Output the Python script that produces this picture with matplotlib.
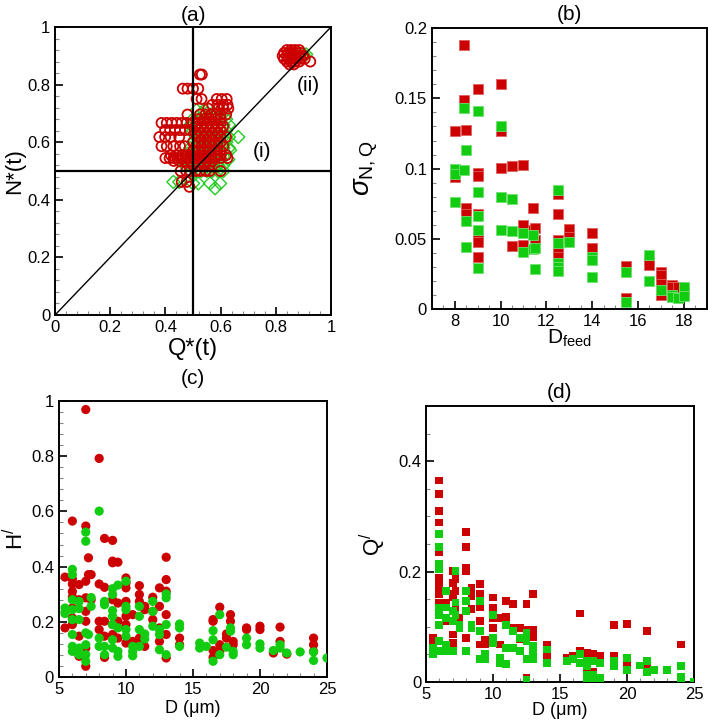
import numpy as np
import matplotlib
matplotlib.use("Agg")
import matplotlib.pyplot as plt
from matplotlib.ticker import MultipleLocator, FuncFormatter

plt.rcParams['font.family'] = ['Liberation Sans', 'DejaVu Sans']
plt.rcParams['mathtext.fontset'] = 'custom'
plt.rcParams['mathtext.rm'] = 'Liberation Sans'
plt.rcParams['mathtext.it'] = 'Liberation Sans:italic'

RED = '#cc0000'
GREEN = '#11cc11'

# ---- panel (a): rows of points, N value -> list of Q values ----
a_red_n = [0.835, 0.786, 0.75, 0.73, 0.717, 0.696, 0.68, 0.667, 0.655, 0.642,
           0.63, 0.618, 0.60, 0.586, 0.57, 0.555, 0.545, 0.535, 0.52, 0.50,
           0.462, 0.445,
           0.92, 0.91, 0.90, 0.89, 0.88, 0.87]
a_red_q = [[0.525, 0.532],
           [0.463, 0.48, 0.50, 0.519],
           [0.513, 0.531, 0.586, 0.604, 0.622],
           [0.57, 0.59, 0.61, 0.625],
           [0.555, 0.592, 0.61, 0.628],
           [0.48, 0.525, 0.545, 0.565, 0.585, 0.60, 0.62],
           [0.52, 0.54, 0.56, 0.58, 0.60],
           [0.386, 0.405, 0.423, 0.441, 0.459, 0.477, 0.50, 0.52, 0.54, 0.56, 0.58, 0.60],
           [0.51, 0.53, 0.55, 0.57, 0.59, 0.61],
           [0.399, 0.417, 0.435, 0.453, 0.471, 0.489, 0.52, 0.54, 0.56, 0.58, 0.60],
           [0.51, 0.53, 0.55, 0.57, 0.59],
           [0.378, 0.399, 0.419, 0.45, 0.52, 0.54, 0.56, 0.58, 0.60, 0.62],
           [0.50, 0.52, 0.54, 0.56, 0.58, 0.60],
           [0.386, 0.405, 0.429, 0.453, 0.47, 0.51, 0.53, 0.55, 0.57, 0.59, 0.61],
           [0.50, 0.52, 0.54, 0.56, 0.58, 0.60],
           [0.42, 0.44, 0.46, 0.48, 0.50, 0.52, 0.54, 0.56, 0.58, 0.60, 0.62],
           [0.40, 0.415, 0.43, 0.445, 0.46, 0.475, 0.49, 0.505, 0.52, 0.535, 0.55, 0.565, 0.58, 0.60, 0.625],
           [0.43, 0.45, 0.47, 0.49, 0.51, 0.53, 0.55, 0.57],
           [0.50, 0.52, 0.54, 0.56],
           [0.455, 0.475, 0.49, 0.51, 0.525, 0.545, 0.56, 0.60],
           [0.459, 0.477],
           [0.487],
           [0.84, 0.855, 0.87, 0.885],
           [0.83, 0.845, 0.86, 0.875, 0.89],
           [0.825, 0.84, 0.855, 0.87, 0.885, 0.90],
           [0.83, 0.845, 0.86, 0.875, 0.89, 0.905],
           [0.84, 0.855, 0.87, 0.885, 0.925],
           [0.85, 0.865]]

a_green_n = [0.711, 0.70, 0.68, 0.66, 0.64, 0.618, 0.60, 0.58, 0.572, 0.56,
             0.54, 0.52, 0.50, 0.462, 0.457, 0.44, 0.905, 0.895]
a_green_q = [[0.513, 0.54],
             [0.53, 0.55, 0.57, 0.59, 0.61],
             [0.50, 0.52, 0.54, 0.56, 0.58, 0.60, 0.62],
             [0.49, 0.51, 0.53, 0.55, 0.57, 0.59, 0.61, 0.63],
             [0.50, 0.52, 0.54, 0.56, 0.58, 0.60, 0.62],
             [0.51, 0.53, 0.55, 0.57, 0.59, 0.61, 0.63, 0.664],
             [0.50, 0.52, 0.54, 0.56, 0.58, 0.60, 0.62],
             [0.49, 0.51, 0.53, 0.55, 0.57, 0.59, 0.61, 0.63],
             [0.634],
             [0.48, 0.50, 0.52, 0.54, 0.56, 0.58, 0.60, 0.62],
             [0.46, 0.48, 0.50, 0.52, 0.54, 0.56, 0.58, 0.60, 0.628],
             [0.47, 0.49, 0.51, 0.53, 0.55, 0.57, 0.59, 0.61],
             [0.49, 0.51, 0.53, 0.55, 0.57, 0.59, 0.61],
             [0.429, 0.45],
             [0.50, 0.519, 0.562, 0.598],
             [0.58],
             [0.90, 0.91],
             [0.895]]

# ---- panel (b): sigma_{N,Q} vs D_feed ----
b_red_x = [8, 8, 8.4, 8.4, 8.5, 8.5, 8.5, 9, 9, 9, 9, 9, 9, 9, 9,
           10, 10, 10, 10.5, 10.5, 11, 11, 11, 11.4, 11.4, 11.5, 11.5,
           12.5, 12.5, 12.5, 12.5, 12.5, 13, 13, 14, 14, 15.5, 15.5,
           16.5, 16.5, 17, 17, 17, 17, 17.5, 17.5, 17.75, 18, 18]
b_red_y = [0.127, 0.094, 0.188, 0.1485, 0.1275, 0.0717, 0.068, 0.157, 0.0966, 0.095,
           0.068, 0.054, 0.050, 0.048, 0.037,
           0.160, 0.127, 0.1006, 0.102, 0.045, 0.1027, 0.060, 0.0455, 0.0716, 0.056,
           0.058, 0.049,
           0.0816, 0.068, 0.049, 0.043, 0.037, 0.057, 0.0515, 0.054, 0.0437, 0.0306, 0.008,
           0.035, 0.031, 0.0266, 0.024, 0.0178, 0.010, 0.017, 0.0154, 0.016, 0.0135, 0.012]
b_green_x = [8, 8, 8, 8.4, 8.4, 8.5, 8.5, 8.5, 9, 9, 9, 9, 9,
             10, 10, 10, 10.5, 10.5, 11, 11, 11.4, 11.4, 11.5, 11.5,
             12.5, 12.5, 12.5, 12.5, 12.5, 13, 14, 14, 14, 15.5, 15.5,
             16.5, 16.5, 17, 17.5, 17.5, 17.75, 18, 18]
b_green_y = [0.100, 0.096, 0.076, 0.143, 0.099, 0.113, 0.063, 0.044, 0.141, 0.083, 0.0665,
             0.056, 0.029,
             0.130, 0.080, 0.056, 0.0785, 0.0555, 0.054, 0.0405, 0.0527, 0.043, 0.0434, 0.0285,
             0.085, 0.0467, 0.0325, 0.030, 0.027, 0.048, 0.037, 0.035, 0.0225, 0.0266, 0.005,
             0.0384, 0.020, 0.0135, 0.010, 0.0088, 0.008, 0.0154, 0.009]

# ---- panel (c): H' vs D ----
c_red_x = [5.45, 5.45, 6, 6, 6, 6, 6, 6, 6, 6, 6.5, 6.5, 6.5, 6.5,
           7, 7, 7, 7, 7, 7, 7, 7, 7.2, 7.2, 7.4, 7.4, 8, 8, 8, 8,
           8.4, 8.4, 8.4, 8.4, 8.4, 9, 9, 9, 9, 9, 9, 9.4, 9.4, 9.4, 9.4,
           10, 10, 10, 10, 10, 10, 10, 10.5, 10.5, 11, 11, 11, 11, 11,
           11.4, 11.4, 11.4, 12, 12, 12, 12.5, 12.5, 12.5, 12.5,
           13, 13, 13, 13, 13, 13, 14, 14, 16.5, 16.5, 16.5, 16.5,
           17, 17, 17, 17.5, 17.5, 17.8, 17.8, 18, 18, 19, 19, 20, 20,
           21, 21.5, 21.5, 22, 24, 24, 24]
c_red_y = [0.362, 0.178, 0.565, 0.355, 0.337, 0.31, 0.29, 0.25, 0.214, 0.19,
           0.335, 0.28, 0.148, 0.075,
           0.969, 0.547, 0.347, 0.287, 0.238, 0.202, 0.105, 0.039, 0.432, 0.371,
           0.371, 0.28, 0.792, 0.337, 0.202, 0.172,
           0.502, 0.325, 0.202, 0.148, 0.071, 0.495, 0.42, 0.414, 0.28, 0.19, 0.154,
           0.416, 0.268, 0.202, 0.141,
           0.359, 0.341, 0.323, 0.274, 0.22, 0.19, 0.123, 0.226, 0.129,
           0.331, 0.299, 0.274, 0.141, 0.129,
           0.256, 0.244, 0.111, 0.289, 0.238, 0.208, 0.323, 0.256, 0.178, 0.129,
           0.434, 0.353, 0.311, 0.226, 0.154, 0.069, 0.141, 0.117,
           0.208, 0.202, 0.096, 0.071,
           0.253, 0.117, 0.093, 0.156, 0.141, 0.226, 0.202, 0.129, 0.117,
           0.178, 0.172, 0.184, 0.172,
           0.087, 0.181, 0.129, 0.083, 0.141, 0.117, 0.093]
c_green_x = [5.45, 5.45, 6, 6, 6, 6, 6, 6, 6, 6, 6.5, 6.5, 6.5, 6.5, 6.5,
             7, 7, 7, 7, 7, 7, 7.2, 7.4, 7.4, 8, 8, 8,
             8.4, 8.4, 8.4, 8.4, 9, 9, 9, 9, 9, 9, 9, 9.4, 9.4, 9.4, 9.4,
             10, 10, 10, 10, 10, 10.5, 10.5, 10.5, 11, 11, 11, 11,
             11.4, 11.4, 12, 12, 12, 12.5, 12.5, 12.5, 13, 13, 13, 13,
             14, 14, 14, 15.5, 15.5, 16, 16.5, 16.5, 16.5, 17, 17, 17.5,
             17.8, 17.8, 18, 18, 19, 19, 20, 20, 21, 21.5, 21.5, 22, 23, 24, 24, 25]
c_green_y = [0.25, 0.23, 0.39, 0.371, 0.28, 0.244, 0.208, 0.154, 0.111, 0.093,
             0.274, 0.248, 0.208, 0.105, 0.081,
             0.525, 0.492, 0.16, 0.117, 0.081, 0.057, 0.154, 0.288, 0.256,
             0.601, 0.141, 0.111,
             0.274, 0.262, 0.111, 0.081, 0.32, 0.299, 0.241, 0.22, 0.19, 0.135, 0.105,
             0.333, 0.178, 0.093, 0.075,
             0.347, 0.256, 0.244, 0.172, 0.148, 0.111, 0.093, 0.077,
             0.256, 0.22, 0.172, 0.111, 0.156, 0.138, 0.274, 0.238, 0.184,
             0.172, 0.154, 0.099, 0.301, 0.287, 0.19, 0.081,
             0.192, 0.178, 0.111, 0.123, 0.105, 0.111, 0.168, 0.135, 0.057,
             0.226, 0.081, 0.108, 0.178, 0.166, 0.093, 0.081, 0.141, 0.117,
             0.12, 0.105, 0.096, 0.117, 0.105, 0.087, 0.091, 0.091, 0.060, 0.069]

# ---- panel (d): Q' vs D ----
d_red_x = [5.5, 5.5, 6, 6, 6, 6, 6, 6, 6, 6, 6, 6, 6.5, 6.5,
           7, 7, 7, 7, 7, 7, 7.2, 7.2, 7.2, 7.5, 8, 8, 8, 8, 8,
           8.4, 8.4, 8.4, 9, 9, 9, 9, 9, 9.4, 9.4, 10, 10, 10, 10,
           10.5, 10.5, 11, 11, 11, 11.5, 11.5, 12, 12, 12.5, 12.5, 12.5, 12.5,
           13, 13, 13, 14, 14, 15.5, 16, 16.5, 16.5, 17, 17, 17.5, 17.5, 18,
           19, 19, 20, 20, 21.5, 21.5, 22, 24]
d_red_y = [0.08, 0.071, 0.365, 0.34, 0.31, 0.289, 0.24, 0.235, 0.189, 0.174, 0.159, 0.144,
           0.144, 0.11,
           0.201, 0.18, 0.159, 0.153, 0.086, 0.071, 0.186, 0.165, 0.132, 0.116,
           0.271, 0.244, 0.207, 0.201, 0.08,
           0.171, 0.156, 0.132, 0.177, 0.159, 0.135, 0.11, 0.068, 0.077, 0.068,
           0.153, 0.135, 0.116, 0.098,
           0.116, 0.068, 0.147, 0.118, 0.11, 0.142, 0.098, 0.098, 0.077,
           0.142, 0.095, 0.08, 0.007,
           0.159, 0.095, 0.081, 0.068, 0.047, 0.044, 0.047, 0.124, 0.056,
           0.053, 0.016, 0.051, 0.019, 0.047,
           0.104, 0.047, 0.105, 0.035, 0.092, 0.029, 0.022, 0.068]
d_green_x = [5.5, 5.5, 6, 6, 6, 6, 6, 6, 6, 6, 6, 6.5, 6.5, 6.5, 6.5, 6.5,
             7, 7, 7, 7.2, 7.2, 7.2, 7.5, 7.5, 8, 8, 8, 8, 8.4, 8.4,
             9, 9, 9, 9.4, 9.4, 10, 10, 10, 10.5, 10.5, 11, 11, 11,
             11.5, 11.5, 12, 12, 12.5, 12.5, 12.5, 12.5, 13, 13, 13,
             14, 14, 15.5, 16, 16.5, 16.5, 17, 17, 17, 17, 17.5, 17.5, 17.5,
             18, 18, 18, 19, 19, 20, 20, 21, 21.5, 21.5, 22, 23, 24, 24, 24, 25]
d_green_y = [0.062, 0.05, 0.268, 0.244, 0.213, 0.204, 0.135, 0.122, 0.104, 0.074, 0.056,
             0.165, 0.135, 0.116, 0.068, 0.056,
             0.128, 0.11, 0.056, 0.201, 0.144, 0.122, 0.104, 0.098,
             0.165, 0.147, 0.128, 0.056, 0.104, 0.098,
             0.147, 0.092, 0.041, 0.05, 0.041, 0.122, 0.08, 0.071, 0.044, 0.035,
             0.104, 0.062, 0.032, 0.092, 0.062, 0.08, 0.056,
             0.089, 0.074, 0.041, 0.004, 0.065, 0.056, 0.041,
             0.059, 0.035, 0.038, 0.041, 0.05, 0.035, 0.038, 0.029, 0.013, 0.001,
             0.038, 0.013, 0.004, 0.035, 0.007, 0.001, 0.038, 0.029, 0.044, 0.022,
             0.03, 0.038, 0.018, 0.022, 0.021, 0.029, 0.010, 0.001, 0.001]


def flatten_rows(ns, qs):
    xs, ys = [], []
    for n, row in zip(ns, qs):
        for q in row:
            xs.append(q)
            ys.append(n)
    return xs, ys


def tecplot_style(ax, major_x, minor_x, major_y, minor_y):
    for s in ax.spines.values():
        s.set_linewidth(1.4)
    ax.xaxis.set_major_locator(MultipleLocator(major_x))
    ax.xaxis.set_minor_locator(MultipleLocator(minor_x))
    ax.yaxis.set_major_locator(MultipleLocator(major_y))
    ax.yaxis.set_minor_locator(MultipleLocator(minor_y))
    fmt = FuncFormatter(lambda v, p: '%g' % round(v, 6))
    ax.xaxis.set_major_formatter(fmt)
    ax.yaxis.set_major_formatter(fmt)
    ax.tick_params(which='both', direction='in', top=False, right=False, labelsize=12)
    ax.tick_params(which='major', length=6, width=1.2)
    ax.tick_params(which='minor', length=3, width=0.8, color='#888888')


fig = plt.figure(figsize=(7.08, 7.22), dpi=100)

# (a)
ax = fig.add_axes([0.0777, 0.5637, 0.3898, 0.3989])
gq, gn = flatten_rows(a_green_n, a_green_q)
rq, rn = flatten_rows(a_red_n, a_red_q)
ax.scatter(gq, gn, marker='D', s=44, facecolors='none', edgecolors='#22cc22', linewidths=1.0, zorder=2)
ax.scatter(rq, rn, marker='o', s=52, facecolors='none', edgecolors=RED, linewidths=1.3, zorder=3)
ax.plot([0, 1], [0, 1], color='black', lw=1.0, zorder=4)
ax.axvline(0.5, color='black', lw=1.6, zorder=4)
ax.axhline(0.5, color='black', lw=1.6, zorder=4)
ax.text(0.749, 0.566, '(i)', fontsize=15, ha='center', va='center')
ax.text(0.918, 0.798, '(ii)', fontsize=15, ha='center', va='center')
ax.set_xlim(0, 1)
ax.set_ylim(0, 1)
tecplot_style(ax, 0.2, 0.04, 0.2, 0.04)
ax.set_xlabel('Q*(t)', fontsize=17, labelpad=2)
ax.set_ylabel('N*(t)', fontsize=16)
ax.yaxis.set_label_coords(-0.11, 0.5)
ax.set_title('(a)', fontsize=15, pad=4)

# (b)
ax = fig.add_axes([0.610, 0.572, 0.388, 0.389])
ax.scatter(b_red_x, b_red_y, marker='s', s=42, color=RED, edgecolors='#e06060', linewidths=0.6, zorder=2)
ax.scatter(b_green_x, b_green_y, marker='s', s=42, color=GREEN, edgecolors='#70e070', linewidths=0.6, zorder=3)
ax.set_xlim(7, 19)
ax.set_ylim(0, 0.2)
tecplot_style(ax, 2, 0.5, 0.05, 0.01)
ax.set_xlabel(r'D$_{\mathrm{feed}}$', fontsize=15, labelpad=-1)
ax.set_ylabel(r'$\sigma_{\mathrm{N,Q}}$', fontsize=20)
ax.yaxis.set_label_coords(-0.19, 0.5)
ax.set_title('(b)', fontsize=15, pad=6)

# (c)
ax = fig.add_axes([0.0833, 0.0623, 0.3785, 0.3823])
ax.scatter(c_red_x, c_red_y, marker='o', s=44, color=RED, edgecolors='none', zorder=2)
ax.scatter(c_green_x, c_green_y, marker='o', s=44, color=GREEN, edgecolors='none', zorder=3)
ax.set_xlim(5, 25)
ax.set_ylim(0, 1)
tecplot_style(ax, 5, 1, 0.2, 0.04)
ax.set_xlabel('D (μm)', fontsize=13, labelpad=2)
ax.set_ylabel(r'H$^{/}$', fontsize=16)
ax.yaxis.set_label_coords(-0.115, 0.5)
ax.set_title('(c)', fontsize=15, pad=12)

# (d)
ax = fig.add_axes([0.6017, 0.0554, 0.3785, 0.3823])
ax.scatter(d_red_x, d_red_y, marker='s', s=32, color=RED, edgecolors='none', zorder=2)
ax.scatter(d_green_x, d_green_y, marker='s', s=32, color=GREEN, edgecolors='none', zorder=3)
ax.set_xlim(5, 25)
ax.set_ylim(0, 0.5)
tecplot_style(ax, 5, 1, 0.2, 0.05)
ax.set_xlabel('D (μm)', fontsize=13, labelpad=0)
ax.set_ylabel(r'Q$^{/}$', fontsize=16)
ax.yaxis.set_label_coords(-0.14, 0.5)
ax.set_title('(d)', fontsize=15, pad=6)

fig.savefig('out.png', dpi=100)
